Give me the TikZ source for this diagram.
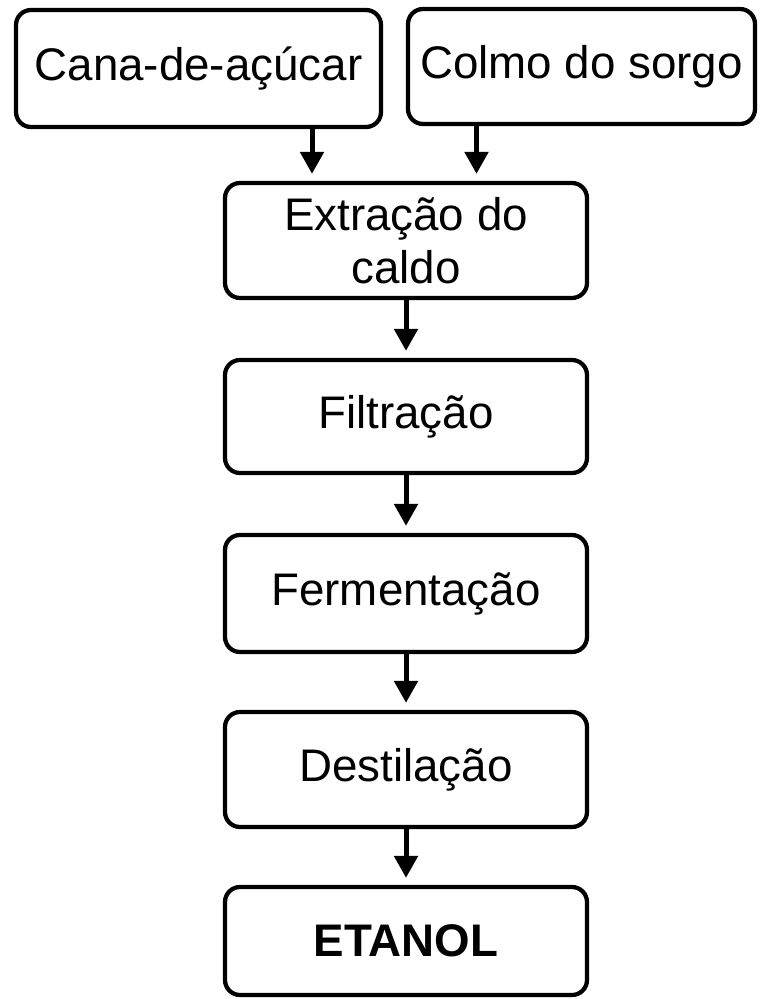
\documentclass[tikz,border=0pt]{standalone}
\usepackage{fontspec}
\setmainfont{Liberation Sans}
\usepackage{tikz}
\usetikzlibrary{arrows.meta}

\begin{document}
\begin{tikzpicture}[>/.tip={Triangle[length=0.44cm,width=0.46cm]},
	caixa/.style={draw,rounded corners=0.3cm,line width=0.085cm,align=center,
		font=\fontsize{26}{30}\selectfont},
	etapa/.style={caixa,minimum width=7.24cm,minimum height=2.3cm},
	seta/.style={->,line width=0.1cm,shorten >=0.14cm}]
	\useasboundingbox (0,0) rectangle (15.18,-19.98);
	\draw (3.97,-1.37) node (cana) [caixa,minimum width=7.3cm,minimum height=2.34cm] {Cana-de-açúcar};
	\draw (11.63,-1.33) node (colmo) [caixa,minimum width=6.94cm,minimum height=2.3cm] {Colmo do sorgo};
	\draw (8.12,-4.81) node (extracao) [etapa] {Extração do\\caldo};
	\draw (8.12,-8.33) node (filtracao) [etapa,minimum height=2.26cm] {Filtração};
	\draw (8.12,-11.87) node (fermentacao) [etapa,minimum height=2.34cm] {Fermentação};
	\draw (8.12,-15.39) node (destilacao) [etapa] {Destilação};
	\draw (8.12,-18.82) node (etanol) [etapa,minimum height=2.16cm] {\bfseries ETANOL};

	\draw[seta] ([xshift=2.27cm]cana.south) -- ([xshift=2.27cm]cana.south |- extracao.north);
	\draw[seta] ([xshift=-2.1cm]colmo.south) -- ([xshift=-2.1cm]colmo.south |- extracao.north);
	\draw[seta] (extracao) -- (filtracao);
	\draw[seta] (filtracao) -- (fermentacao);
	\draw[seta] (fermentacao) -- (destilacao);
	\draw[seta] (destilacao) -- (etanol);
\end{tikzpicture}
\end{document}
